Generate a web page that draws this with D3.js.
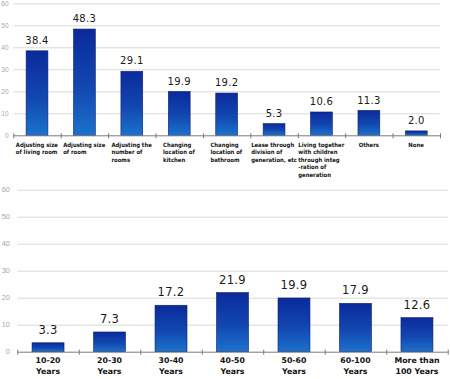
<!DOCTYPE html>
<html>
<head>
<meta charset="utf-8">
<script src="https://cdn.jsdelivr.net/npm/d3@7"></script>
<style>
  html, body { margin: 0; padding: 0; background: #fff; }
  svg { display: block; }
</style>
</head>
<body>
<svg id="chart" width="450" height="379"></svg>
<script>
// ---- Data ----
const topCategories = [
  ["Adjusting size", "of living room"],
  ["Adjusting size", "of  room"],
  ["Adjusting the", "number of", "rooms"],
  ["Changing", "location of", "kitchen"],
  ["Changing", "location of", "bathroom"],
  ["Lease through", "division of", "generation, etc"],
  ["Living together", "with children", "through integ", "-ration of", "generation"],
  ["Others"],
  ["None"]
];
const topValues = [38.4, 48.3, 29.1, 19.9, 19.2, 5.3, 10.6, 11.3, 2.0];

const bottomCategories = [
  ["10-20", "Years"],
  ["20-30", "Years"],
  ["30-40", "Years"],
  ["40-50", "Years"],
  ["50-60", "Years"],
  ["60-100", "Years"],
  ["More than", "100 Years"]
];
const bottomValues = [3.3, 7.3, 17.2, 21.9, 19.9, 17.9, 12.6];

const yTicks = [0, 10, 20, 30, 40, 50, 60];

// ---- Drawing ----
const svg = d3.select("#chart");
const defs = svg.append("defs");
const grad = defs.append("linearGradient")
  .attr("id", "barGrad").attr("x1", 0).attr("y1", 0).attr("x2", 0).attr("y2", 1);
grad.append("stop").attr("offset", "0%").attr("stop-color", "#0b2a9c");
grad.append("stop").attr("offset", "55%").attr("stop-color", "#1247b0");
grad.append("stop").attr("offset", "100%").attr("stop-color", "#1b72cc");

function drawPanel(cfg) {
  const g = svg.append("g");
  const n = cfg.values.length;
  const x = d3.scaleBand()
    .domain(d3.range(n))
    .range([cfg.x0, cfg.x1])
    .paddingInner(cfg.pad)
    .paddingOuter(cfg.pad / 2);
  const y = d3.scaleLinear().domain([0, 60]).range([cfg.yBottom, cfg.yTop]);
  const step = x.step();

  // gridlines
  g.selectAll("line.grid").data(yTicks.filter(t => t > 0)).join("line")
    .attr("x1", cfg.x0).attr("x2", cfg.x1)
    .attr("y1", d => y(d) + 0.5).attr("y2", d => y(d) + 0.5)
    .attr("stroke", "#d9d9d9").attr("stroke-width", 1);

  // y tick labels
  g.selectAll("text.ytick").data(yTicks).join("text")
    .attr("x", cfg.yLabelX).attr("y", d => y(d) + cfg.yTickSize * 0.36)
    .attr("text-anchor", "end")
    .attr("font-family", "'Liberation Sans', Arial, sans-serif")
    .attr("font-size", cfg.yTickSize)
    .attr("fill", "#a8a8a8")
    .text(d => d);

  // bars
  g.selectAll("rect.bar").data(cfg.values).join("rect")
    .attr("x", (d, i) => x(i))
    .attr("y", d => y(d))
    .attr("width", x.bandwidth())
    .attr("height", d => y(0) - y(d))
    .attr("fill", "url(#barGrad)")
    .attr("stroke", "#0a1f6e").attr("stroke-width", 0.6);

  // axis line
  g.append("line")
    .attr("x1", cfg.x0).attr("x2", cfg.x1)
    .attr("y1", y(0) + 0.5).attr("y2", y(0) + 0.5)
    .attr("stroke", "#7a7a7a").attr("stroke-width", 1);
  // tick marks at band boundaries
  g.selectAll("line.tick").data(d3.range(n + 1)).join("line")
    .attr("x1", i => cfg.x0 + i * step + 0.5).attr("x2", i => cfg.x0 + i * step + 0.5)
    .attr("y1", y(0) - 2).attr("y2", y(0) + 3)
    .attr("stroke", "#7a7a7a").attr("stroke-width", 1);

  // value labels
  g.selectAll("text.val").data(cfg.values).join("text")
    .attr("x", (d, i) => x(i) + x.bandwidth() / 2)
    .attr("y", d => y(d) - cfg.valOffset)
    .attr("text-anchor", "middle")
    .attr("font-family", "'DejaVu Sans', Verdana, sans-serif")
    .attr("font-size", cfg.valSize)
    .attr("letter-spacing", cfg.valSpacing)
    .attr("fill", "#1a1a1a")
    .text(d => d.toFixed(1));

  // category labels
  cfg.categories.forEach((lines, i) => {
    const cx = x(i) + x.bandwidth() / 2;
    const t = g.append("text")
      .attr("font-family", cfg.catFont)
      .attr("font-weight", "bold")
      .attr("font-size", cfg.catSize)
      .attr("fill", "#111");
    lines.forEach((ln, j) => {
      t.append("tspan").attr("x", 0).attr("y", cfg.catY + j * cfg.catLine).text(ln);
    });
    if (cfg.blockCenter) {
      const w = t.node().getBBox().width;
      t.attr("transform", `translate(${cx - w / 2},0)`);
      t.attr("text-anchor", "start");
    } else {
      t.attr("text-anchor", "middle").attr("transform", `translate(${cx},0)`);
    }
  });
}

drawPanel({
  values: topValues, categories: topCategories,
  x0: 13.3, x1: 440, yBottom: 135.3, yTop: 3.3, pad: 0.54,
  yLabelX: 8.5, yTickSize: 6.5,
  valOffset: 6.8, valSize: 10, valSpacing: 0.3,
  catFont: "'DejaVu Sans Condensed', 'DejaVu Sans', sans-serif",
  catSize: 5.9, catY: 147, catLine: 7.4, blockCenter: true
});

drawPanel({
  values: bottomValues, categories: bottomCategories,
  x0: 17.3, x1: 447.7, yBottom: 351.7, yTop: 189.7, pad: 0.48,
  yLabelX: 10, yTickSize: 7.5,
  valOffset: 9, valSize: 11.5, valSpacing: 0.3,
  catFont: "'DejaVu Sans', Verdana, sans-serif",
  catSize: 7.8, catY: 363, catLine: 10.7, blockCenter: false
});
</script>
</body>
</html>
